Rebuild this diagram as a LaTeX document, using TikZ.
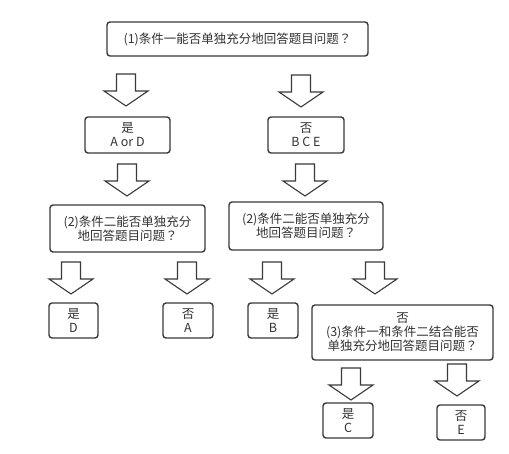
\documentclass[tikz,border=0pt]{standalone}
\usepackage{fontspec}
\setmainfont{Noto Sans CJK SC}
\newfontfamily\tcfont{Noto Sans CJK TC}
\newcommand{\qmark}{{\tcfont ？}}
\definecolor{linegray}{HTML}{3A3A3A}
\definecolor{textgray}{HTML}{333333}
\tikzset{
  qbox/.style={draw=linegray, line width=1.4pt, rounded corners=3pt, align=center,
    inner sep=0pt, text=textgray, font=\fontsize{12.5}{14}\selectfont},
  blockarrow/.pic={
    \draw[linegray, line width=1.1pt, line join=miter]
      (-9.5,0) -- (9.5,0) -- (9.5,17) -- (22,17) -- (0,32) -- (-22,17) -- (-9.5,17) -- cycle;
  }
}
\begin{document}
\begin{tikzpicture}[x=1pt,y=-1pt]
  \useasboundingbox[fill=white] (0,0) rectangle (509,454);
  %
  \node[qbox, minimum width=261pt, minimum height=34pt] (q1) at (237.5,39) {(1)条件一能否单独充分地回答题目问题\qmark};
  \node[qbox, minimum width=85pt, minimum height=36pt] (yesAD) at (127.5,135) {是\\A or D};
  \node[qbox, minimum width=76pt, minimum height=36pt] (noBCE) at (306,135) {否\\B C E};
  \node[qbox, minimum width=155pt, minimum height=47pt] (q2l) at (127.5,228.5) {(2)条件二能否单独充分\\地回答题目问题\qmark};
  \node[qbox, minimum width=154pt, minimum height=48pt] (q2r) at (306,226) {(2)条件二能否单独充分\\地回答题目问题\qmark};
  \node[qbox, minimum width=49pt, minimum height=35pt] (yesD) at (73.5,320.5) {是\\D};
  \node[qbox, minimum width=50pt, minimum height=35pt] (noA) at (188,320.5) {否\\A};
  \node[qbox, minimum width=50pt, minimum height=35pt] (yesB) at (273,320.5) {是\\B};
  \node[qbox, minimum width=181pt, minimum height=55pt] (q3) at (402.5,332.5) {否\\(3)条件一和条件二结合能否\\单独充分地回答题目问题\qmark};
  \node[qbox, minimum width=50pt, minimum height=35pt] (yesC) at (348,420.5) {是\\C};
  \node[qbox, minimum width=48pt, minimum height=35pt] (noE) at (461,422.5) {否\\E};
  %
  \foreach \ax/\ay in {126/74, 301/75, 127/164, 305/164, 71/262, 187/262, 272/262, 375/262, 351/368, 457/364} {
    \pic at (\ax,\ay) {blockarrow};
  }
\end{tikzpicture}
\end{document}
